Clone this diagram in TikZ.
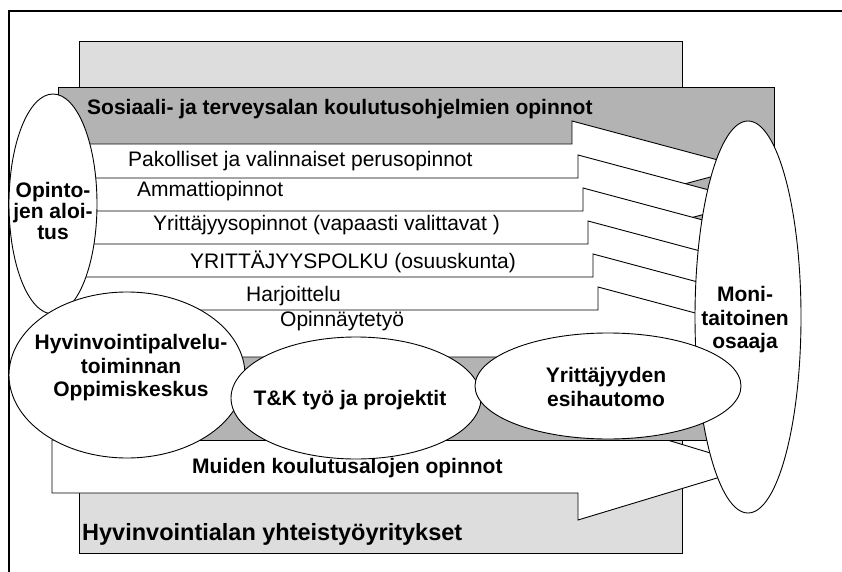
\documentclass[tikz,border=0pt]{standalone}
\usepackage{fontspec}
\setmainfont{Liberation Sans}
\usetikzlibrary{shapes}
\usetikzlibrary{calc}
\definecolor{backgray}{HTML}{DDDDDD}
\definecolor{midgray}{HTML}{B3B3B3}
\tikzset{
	lbl/.style={anchor=west, inner sep=0pt, text height=0.72em, text depth=0pt, font=\fontsize{21}{24}\selectfont},
	blbl/.style={lbl, font=\fontsize{21}{24}\selectfont\bfseries},
	oval/.style={draw, ellipse, fill=white, line width=0.9pt, inner sep=0pt},
	ovaltxt/.style={inner sep=0pt, align=center, font=\fontsize{21}{23.5}\selectfont\bfseries},
	blk/.style={draw, fill=white, line width=0.9pt}
}

\begin{document}
\begin{tikzpicture}[x=1pt, y=-1pt]
	\useasboundingbox (0,0) rectangle (842,572);
	\draw[line width=1.3pt] (9,572) -- (9,11) -- (842,11);
	% back boxes
	\draw[fill=backgray, line width=0.9pt] (79,41) rectangle (682,553);
	\node[blbl, font=\fontsize{23.5}{26}\selectfont\bfseries] (yhteis) at (82,537) {Hyvinvointialan yhteistyöyritykset};
	\draw[blk] (52,440) -- (578,440) -- (578,413) -- (755,466.5) -- (578,520) -- (578,493) -- (52,493) -- cycle;
	\node[blbl] (muiden) at (192,470) {Muiden koulutusalojen opinnot};
	\draw[fill=midgray, line width=0.9pt] (58,87) rectangle (774,440);
	\node[blbl] (sosiaali) at (87,111) {Sosiaali- ja terveysalan koulutusohjelmien opinnot};
	% study paths
	\foreach \yt/\nk/\tx/\ty/\lab [count=\i] in {144/572/128/163/{Pakolliset ja valinnaiset perusopinnot},
		178/578/137/193/{Ammattiopinnot},
		211/583/153/227/{Yrittäjyysopinnot (vapaasti valittavat )},
		244/588/190/265/{YRITTÄJYYSPOLKU (osuuskunta)},
		277/593/246/298/{Harjoittelu},
		310/598/280/323/{Opinnäytetyö}}{
		\draw[blk] (58,\yt) -- (\nk,\yt) -- (\nk,\yt-23) -- (\nk+174,\yt+23.5) -- (\nk,\yt+70) -- (\nk,\yt+47) -- (58,\yt+47) -- cycle;
		\node[lbl] (path\i) at (\tx,\ty) {\lab};
	}
	% ovals
	\node[oval, minimum width=88pt, minimum height=220pt] (aloitus) at (53,204) {};
	\node[ovaltxt, font=\fontsize{21}{21}\selectfont\bfseries] (aloitustxt) at ($(aloitus)+(0,7)$) {Opinto-\\jen aloi-\\tus};
	\node[oval, minimum width=106pt, minimum height=392pt] (osaaja) at (748,317) {};
	\node[ovaltxt] (osaajatxt) at ($(osaaja)+(-3,3)$) {Moni-\\taitoinen\\osaaja};
	\node[oval, minimum width=236pt, minimum height=166pt] (keskus) at (127,375) {};
	\node[ovaltxt] (keskustxt) at ($(keskus)+(4,-7)$) {Hyvinvointipalvelu-\\toiminnan\\Oppimiskeskus};
	\node[oval, minimum width=250pt, minimum height=122pt] (tk) at (356,398) {};
	\node[ovaltxt] (tktxt) at ($(tk)+(-6,2)$) {T\&K työ ja projektit};
	\node[oval, minimum width=266pt, minimum height=106pt] (hautomo) at (608,386) {};
	\node[ovaltxt] (hautomotxt) at ($(hautomo)+(-2,1)$) {Yrittäjyyden\\esihautomo};
\end{tikzpicture}
\end{document}
